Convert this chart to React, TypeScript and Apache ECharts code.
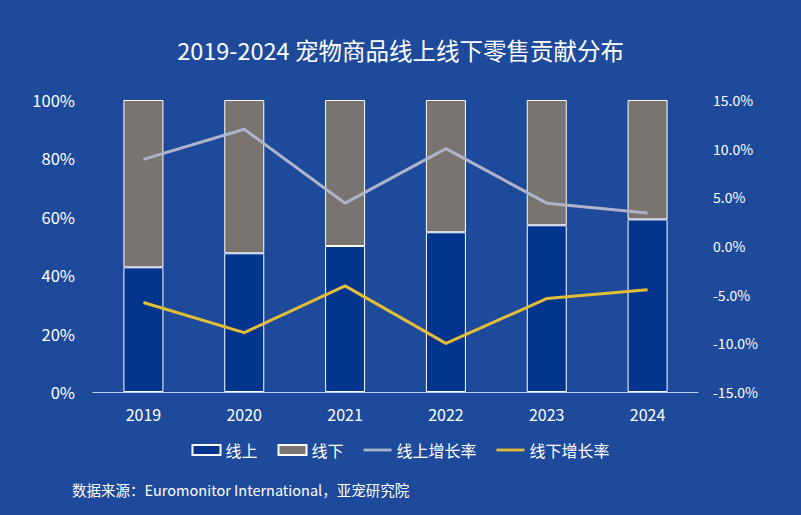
import React, { useEffect, useRef } from "react";
import * as echarts from "echarts";

const years = ["2019", "2020", "2021", "2022", "2023", "2024"];
const onlineShare = [42.7, 47.5, 50.0, 54.7, 57.1, 59.1];
const offlineShare = onlineShare.map((v) => +(100 - v).toFixed(1));
const onlineGrowth = [8.9, 12.0, 4.4, 10.0, 4.4, 3.4];
const offlineGrowth = [-5.8, -8.9, -4.1, -10.0, -5.4, -4.5];

const FONT = "'Noto Sans CJK SC', 'Open Sans', sans-serif";
const LINE_ICON = "path://M0,0 H30 V3 H0 Z";

export default function App() {
  const ref = useRef<HTMLDivElement>(null);
  useEffect(() => {
    document.body.style.margin = "0";
    const chart = echarts.init(ref.current!, null, { renderer: "svg" });
    chart.setOption({
      animation: false,
      backgroundColor: "#1e4a9b",
      textStyle: { fontFamily: FONT },
      title: {
        text: "2019-2024 宠物商品线上线下零售贡献分布",
        left: "center",
        top: 33,
        textStyle: { color: "#ffffff", fontSize: 23.5, fontWeight: "normal", fontFamily: FONT },
      },
      legend: {
        bottom: 52,
        left: "center",
        itemWidth: 28,
        itemHeight: 10,
        itemGap: 20,
        textStyle: { color: "#ffffff", fontSize: 16, fontFamily: FONT },
        data: [
          { name: "线上", icon: "rect" },
          { name: "线下", icon: "rect" },
          { name: "线上增长率", icon: LINE_ICON },
          { name: "线下增长率", icon: LINE_ICON },
        ],
      },
      graphic: [
        {
          type: "text",
          left: 72,
          top: 482,
          style: {
            text: "数据来源：Euromonitor International，亚宠研究院",
            fill: "#ffffff",
            font: `14.5px ${FONT}`,
          },
        },
      ],
      grid: { left: 93, right: 103, top: 100, bottom: 123 },
      xAxis: {
        type: "category",
        data: years,
        axisLine: { lineStyle: { color: "#c8d4ee", width: 1 } },
        axisTick: { show: false },
        axisLabel: { color: "#ffffff", fontSize: 16, margin: 14, fontFamily: FONT },
      },
      yAxis: [
        {
          type: "value",
          min: 0,
          max: 100,
          interval: 20,
          splitLine: { show: false },
          axisLine: { show: false },
          axisTick: { show: false },
          axisLabel: { color: "#ffffff", fontSize: 16.5, margin: 18, formatter: "{value}%", fontFamily: FONT },
        },
        {
          type: "value",
          min: -15,
          max: 15,
          interval: 5,
          splitLine: { show: false },
          axisLine: { show: false },
          axisTick: { show: false },
          axisLabel: {
            color: "#ffffff",
            fontSize: 14,
            margin: 15,
            fontFamily: FONT,
            formatter: (v: number) => v.toFixed(1) + "%",
          },
        },
      ],
      series: [
        {
          name: "线上",
          type: "bar",
          stack: "share",
          data: onlineShare,
          barWidth: 40,
          itemStyle: { color: "#03358f", borderColor: "#ffffff", borderWidth: 1 },
        },
        {
          name: "线下",
          type: "bar",
          stack: "share",
          data: offlineShare,
          barWidth: 40,
          itemStyle: { color: "#7a7470", borderColor: "#ffffff", borderWidth: 1 },
        },
        {
          name: "线上增长率",
          type: "line",
          yAxisIndex: 1,
          data: onlineGrowth,
          symbol: "none",
          lineStyle: { color: "#adb3c8", width: 3 },
          itemStyle: { color: "#adb3c8" },
        },
        {
          name: "线下增长率",
          type: "line",
          yAxisIndex: 1,
          data: offlineGrowth,
          symbol: "none",
          lineStyle: { color: "#e4bd36", width: 3 },
          itemStyle: { color: "#e4bd36" },
        },
      ],
    });
    return () => chart.dispose();
  }, []);
  return <div ref={ref} style={{ position: "absolute", left: 0, top: 0, width: 801, height: 515 }} />;
}
